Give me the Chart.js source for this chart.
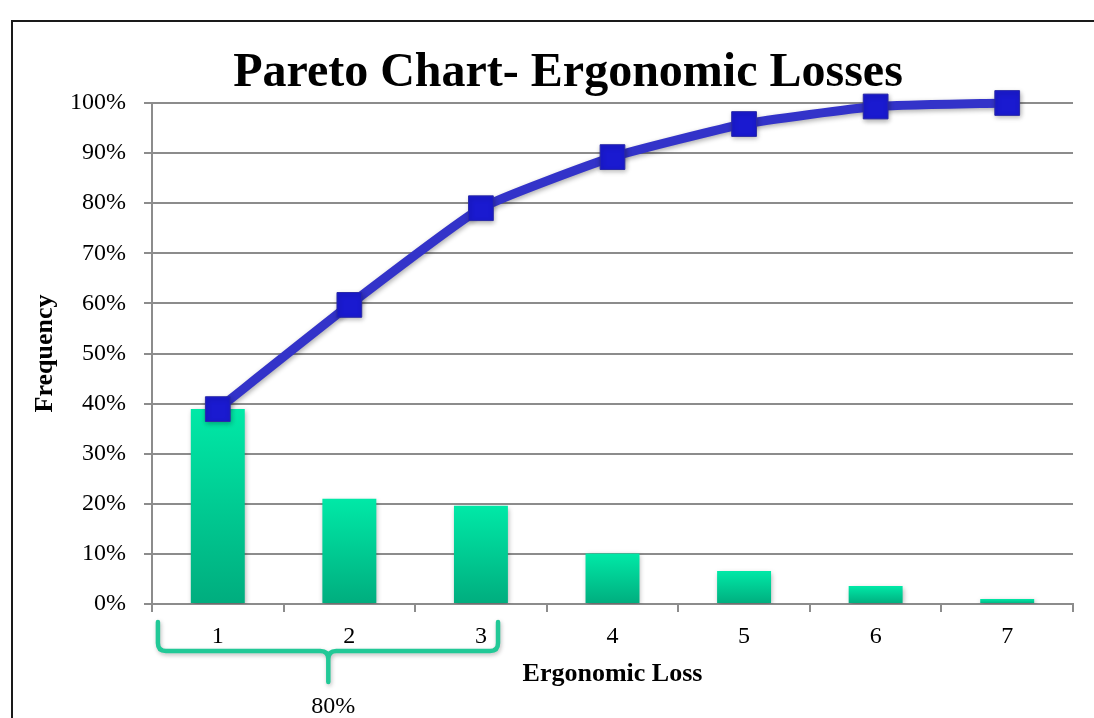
<!DOCTYPE html>
<html>
<head>
<meta charset="utf-8">
<title>Pareto Chart- Ergonomic Losses</title>
<script src="https://cdn.jsdelivr.net/npm/chart.js@4.4.0/dist/chart.umd.min.js"></script>
<style>
  html, body { margin: 0; padding: 0; background: #fff; overflow: hidden; }
  #wrap { position: relative; width: 1094px; height: 718px; overflow: hidden; }
  #frame { position: absolute; left: 11px; top: 20px; width: 1200px; height: 800px; border: 2px solid #1a1a1a; }
  #title { position: absolute; left: 0; top: 46px; width: 1136px; text-align: center;
           font: bold 48px "Liberation Serif", "Times New Roman", serif; line-height: 48px; color: #000; }
  canvas { position: absolute; left: 0; top: 0; }
</style>
</head>
<body>
<div id="wrap">
  <div id="frame"></div>
  <canvas id="pareto" width="1094" height="718"></canvas>
  <div id="title">Pareto Chart- Ergonomic Losses</div>
</div>
<script>
// Ergonomic loss categories and their share of all losses (percent)
const categories = ['1', '2', '3', '4', '5', '6', '7'];
const lossShare = [38.9, 21.0, 19.6, 10.1, 6.6, 3.6, 1.0];
// Running total of the shares (percent)
const cumulativeShare = [38.9, 59.7, 79.0, 89.2, 95.8, 99.3, 100];
// Value-axis tick values
const percentTicks = [0, 10, 20, 30, 40, 50, 60, 70, 80, 90, 100];
// Bracket under the vital few categories, in category-index units
const groupLabel = '80%';
const groupFrom = -0.455;
const groupTip = 0.84;
const groupTo = 2.13;

const SERIF = '"Liberation Serif", "Times New Roman", serif';
Chart.defaults.font.family = SERIF;
Chart.defaults.color = '#000';

const GRID = '#8c8c8c';

// Soft drop shadow under bars and markers
const shadowPlugin = {
  id: 'markShadow',
  beforeDatasetDraw(chart) {
    const c = chart.ctx;
    c.save();
    c.shadowColor = 'rgba(0,0,0,0.32)';
    c.shadowBlur = 5;
    c.shadowOffsetX = 1;
    c.shadowOffsetY = 2;
  },
  afterDatasetDraw(chart) {
    chart.ctx.restore();
  }
};

// Curly bracket grouping the first categories, with its label
const bracketPlugin = {
  id: 'groupBracket',
  afterDraw(chart) {
    const x = chart.scales.x;
    const c = chart.ctx;
    const x0 = x.getPixelForValue(groupFrom);
    const x1 = x.getPixelForValue(groupTo);
    const xm = x.getPixelForValue(groupTip);
    const yTop = chart.chartArea.bottom + 18;
    const yMid = yTop + 29;
    const yTip = yMid + 31;
    const r = 8;
    c.save();
    c.shadowColor = 'rgba(0,0,0,0.25)';
    c.shadowBlur = 4;
    c.shadowOffsetX = 1;
    c.shadowOffsetY = 2;
    c.strokeStyle = '#22c997';
    c.lineWidth = 4.5;
    c.lineCap = 'round';
    c.lineJoin = 'round';
    c.beginPath();
    c.moveTo(x0, yTop);
    c.lineTo(x0, yMid - r);
    c.quadraticCurveTo(x0, yMid, x0 + r, yMid);
    c.lineTo(xm - r, yMid);
    c.quadraticCurveTo(xm, yMid, xm, yMid + r);
    c.lineTo(xm, yTip);
    c.moveTo(xm, yMid + r);
    c.quadraticCurveTo(xm, yMid, xm + r, yMid);
    c.lineTo(x1 - r, yMid);
    c.quadraticCurveTo(x1, yMid, x1, yMid - r);
    c.lineTo(x1, yTop);
    c.stroke();
    c.restore();
    c.save();
    c.fillStyle = '#000';
    c.font = '24px ' + SERIF;
    c.textAlign = 'center';
    c.textBaseline = 'alphabetic';
    c.fillText(groupLabel, xm + 5, yTip + 31);
    c.restore();
  }
};

function barGradient(ctx) {
  const chart = ctx.chart;
  const y = chart.scales.y;
  if (!y || ctx.raw == null) return '#00d096';
  const top = y.getPixelForValue(ctx.raw);
  const base = y.getPixelForValue(0);
  if (!isFinite(top) || !isFinite(base)) return '#00d096';
  const g = chart.ctx.createLinearGradient(0, top, 0, base);
  g.addColorStop(0, '#00e9a7');
  g.addColorStop(1, '#00ad7e');
  return g;
}

new Chart(document.getElementById('pareto'), {
  data: {
    labels: categories,
    datasets: [
      {
        type: 'line',
        label: 'Cumulative',
        data: cumulativeShare,
        order: 0,
        borderColor: '#3333c9',
        borderWidth: 9,
        tension: 0.15,
        pointStyle: 'rect',
        pointRadius: 17.5,
        pointBackgroundColor: '#1a1ad0',
        pointBorderColor: '#2a2aa8',
        pointBorderWidth: 1,
        clip: false
      },
      {
        type: 'bar',
        label: 'Share',
        data: lossShare,
        order: 1,
        backgroundColor: barGradient,
        borderWidth: 0,
        barPercentage: 0.41,
        categoryPercentage: 1
      }
    ]
  },
  options: {
    responsive: false,
    animation: false,
    devicePixelRatio: 1,
    layout: { padding: { left: 14, right: 21, top: 103, bottom: 28 } },
    plugins: {
      legend: { display: false },
      tooltip: { enabled: false },
      title: { display: false }
    },
    scales: {
      x: {
        type: 'category',
        offset: true,
        afterFit(scale) { scale.height = 86; },
        grid: {
          offset: true,
          drawOnChartArea: false,
          drawTicks: true,
          tickLength: 8,
          color: GRID,
          lineWidth: 2
        },
        border: { display: true, color: GRID, width: 2 },
        ticks: { padding: 10, font: { size: 24 }, color: '#000', maxRotation: 0 },
        title: {
          display: true,
          text: 'Ergonomic Loss',
          font: { size: 26, weight: 'bold' },
          color: '#000',
          padding: { top: 0, bottom: 0 }
        }
      },
      y: {
        min: 0,
        max: 100,
        afterFit(scale) { scale.width = 138; },
        afterBuildTicks(scale) { scale.ticks = percentTicks.map(v => ({ value: v })); },
        grid: {
          drawTicks: true,
          tickLength: 8,
          color: GRID,
          lineWidth: 2
        },
        border: { display: true, color: GRID, width: 2 },
        ticks: {
          padding: 18,
          font: { size: 24 },
          color: '#000',
          callback: v => v + '%'
        },
        title: {
          display: true,
          text: 'Frequency',
          font: { size: 26, weight: 'bold' },
          color: '#000',
          padding: { top: 16, bottom: 0 }
        }
      }
    }
  },
  plugins: [shadowPlugin, bracketPlugin]
});
</script>
</body>
</html>
